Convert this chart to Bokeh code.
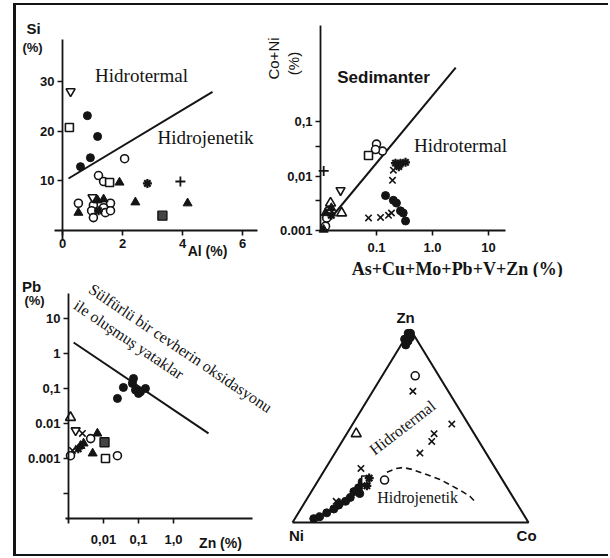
import math
from bokeh.plotting import figure
from bokeh.models import Range1d, FixedTicker, Label, LinearAxis, LogAxis, Grid
from bokeh.layouts import row, column
from bokeh.embed import file_html
from bokeh.resources import INLINE

INK = "#141414"
SERIF = "Liberation Serif"
SANS = "Liberation Sans"

# ---------------- Panel 1: Al (%) vs Si (%) ----------------
al_dot = [0.83, 1.17, 0.93, 0.6]
si_dot = [23.2, 19.0, 14.7, 12.9]
al_ring = [2.07, 1.2, 1.37, 0.53, 1.6, 1.03, 0.97, 1.03, 1.37, 1.43, 1.6]
si_ring = [14.5, 11.1, 9.9, 5.5, 5.5, 5.1, 4.0, 2.6, 4.6, 3.6, 4.0]
al_box = [0.23, 1.57]
si_box = [20.8, 9.7]
al_block = [3.33]
si_block = [3.0]
al_tri = [1.9, 2.43, 4.17, 0.53, 1.17, 1.37]
si_tri = [9.7, 5.7, 5.5, 3.6, 6.1, 6.3]
al_vtri = [0.27, 1.0]
si_vtri = [28.1, 6.7]
al_star = [2.83, 1.2]
si_star = [9.5, 4.0]
al_plus = [3.93]
si_plus = [9.9]
al_bound = [0.2, 5.0]
si_bound = [10.5, 28.0]
al_ticks = [0, 2, 4, 6]
si_ticks = [10, 20, 30]

# ---------------- Panel 2: As+Cu+Mo+Pb+V+Zn vs Co+Ni ----------------
s2_ring = [0.1, 0.128, 0.096, 0.0139, 0.0129, 0.0123]
c2_ring = [0.039, 0.029, 0.031, 0.0023, 0.0017, 0.0012]
s2_box = [0.072]
c2_box = [0.024]
s2_plus = [0.0114]
c2_plus = [0.0125]
s2_vtri = [0.0228]
c2_vtri = [0.0055]
s2_star = [0.218, 0.268, 0.33, 0.25, 0.0156]
c2_star = [0.0174, 0.0174, 0.018, 0.015, 0.0019]
s2_x = [0.2, 0.193, 0.072, 0.118, 0.164, 0.185]
c2_x = [0.0129, 0.0084, 0.0017, 0.00174, 0.0019, 0.0021]
s2_dot = [0.145, 0.2, 0.227, 0.268, 0.3, 0.33]
c2_dot = [0.0044, 0.0036, 0.0032, 0.0023, 0.0021, 0.0015]
s2_tri_open = [0.0151, 0.0238]
c2_tri_open = [0.0032, 0.0021]
s2_tri = [0.0123, 0.0156, 0.0114]
c2_tri = [0.0021, 0.0026, 0.00104]
s2_bound = [0.01, 2.6]
c2_bound = [0.001, 1.0]
s2_ticks = [0.1, 1, 10]
s2_tick_text = ["0.1", "1.0", "10"]
c2_ticks = [0.001, 0.0035, 0.01, 0.035, 0.1]
c2_tick_text = ["0.001", "", "0,01", "", "0,1"]

# ---------------- Panel 3: Zn (%) vs Pb (%) ----------------
zn3_dot = [0.072, 0.037, 0.025, 0.082, 0.1, 0.158, 0.114, 0.067]
pb3_dot = [0.193, 0.107, 0.052, 0.09, 0.072, 0.1, 0.08, 0.139]
zn3_tri_open = [0.00114]
pb3_tri_open = [0.0148]
zn3_vtri = [0.0016]
pb3_vtri = [0.0063]
zn3_x = [0.0025, 0.0013]
pb3_x = [0.0052, 0.0017]
zn3_ring = [0.0043, 0.00114, 0.025]
pb3_ring = [0.0037, 0.0012, 0.0012]
zn3_tri = [0.0067, 0.0022, 0.0049, 0.0027]
pb3_tri = [0.0052, 0.0023, 0.0014, 0.0027]
zn3_block = [0.0107]
pb3_block = [0.0029]
zn3_box = [0.0114]
pb3_box = [0.001]
zn3_star = [0.0019]
pb3_star = [0.0019]
zn3_bound = [0.0014, 10.0]
pb3_bound = [2.06, 0.0052]
zn3_ticks = [0.01, 0.1, 1]
zn3_tick_text = ["0,01", "0,1", "1,0"]
pb3_ticks = [0.0001, 0.001, 0.01, 0.1, 1, 10]
pb3_tick_text = ["", "0.001", "0.01", "0,1", "1", "10"]

# ---------------- Panel 4: ternary Zn - Ni - Co (%) ----------------
t_dot_zn = [98, 96, 95, 94, 98, 92, 21, 18, 16, 15, 13, 11, 9, 7, 5, 3, 2]
t_dot_ni = [2, 2, 5, 4, 1, 6, 60, 63, 66, 64, 69, 72, 76, 79, 83, 87, 90]
t_dot_co = [0, 2, 0, 2, 1, 2, 19, 19, 18, 21, 18, 17, 15, 14, 12, 10, 8]
t_ring_zn = [76, 22]
t_ring_ni = [10, 50]
t_ring_co = [14, 28]
t_x_zn = [68, 51, 46, 42, 36, 28, 11]
t_x_ni = [15, 7, 17, 20, 28, 57, 76]
t_x_co = [17, 42, 37, 38, 36, 15, 13]
t_tri_open_zn = [46]
t_tri_open_ni = [50]
t_tri_open_co = [4]
t_box_zn = [22]
t_box_ni = [58]
t_box_co = [20]
t_star_zn = [19, 23, 10]
t_star_ni = [59, 56, 75]
t_star_co = [22, 21, 15]
t_bound_zn = [26, 28, 28.5, 27.5, 25, 22, 19, 16, 13.5, 10]
t_bound_ni = [47, 42, 39, 35.5, 31, 26, 23, 20, 18, 17]
t_bound_co = [27, 30, 32.5, 37, 44, 52, 58, 64, 68.5, 73]
t_corner_zn = [0, 0, 100, 0]
t_corner_ni = [100, 0, 0, 100]
t_corner_co = [0, 100, 0, 0]

STYLE = {
    "dot": dict(marker="circle", size=8, fill_color=INK, line_width=1),
    "ring": dict(marker="circle", size=8, fill_color="white", line_width=1.6),
    "box": dict(marker="square", size=8, fill_color="white", line_width=1.6),
    "block": dict(marker="square", size=9, fill_color="#444444", line_width=1.4),
    "tri": dict(marker="triangle", size=9, fill_color=INK, line_width=1),
    "tri_open": dict(marker="triangle", size=10, fill_color="white", line_width=1.6),
    "vtri": dict(marker="inverted_triangle", size=9, fill_color="white", line_width=1.6),
    "star": dict(marker="asterisk", size=9, fill_color=INK, line_width=2.2),
    "x": dict(marker="x", size=9, fill_color=INK, line_width=1.6),
    "plus": dict(marker="cross", size=10, fill_color=INK, line_width=1.8),
}


def marks(p, xs, ys, kind):
    st = STYLE[kind]
    p.scatter(xs, ys, marker=st["marker"], size=st["size"], fill_color=st["fill_color"],
              line_color=INK, line_width=st["line_width"])


def style_axis(ax, standoff=3):
    ax.axis_line_color = INK
    ax.axis_line_width = 1.8
    ax.major_tick_line_color = INK
    ax.major_tick_line_width = 1.6
    ax.major_tick_out = 5
    ax.major_tick_in = 0
    ax.minor_tick_line_color = None
    ax.major_label_text_font = SANS
    ax.major_label_text_font_size = "13px"
    ax.major_label_text_font_style = "bold"
    ax.major_label_text_color = INK
    ax.major_label_standoff = standoff
    return ax


def base_fig(w, h, xr, yr, xtype="linear", ytype="linear"):
    p = figure(width=w, height=h, output_backend="svg", toolbar_location=None,
               x_axis_type=xtype, y_axis_type=ytype,
               x_axis_location=None, y_axis_location=None,
               x_range=Range1d(*xr), y_range=Range1d(*yr), min_border=0)
    p.outline_line_color = None
    for r in list(p.center):
        if isinstance(r, Grid):
            r.visible = False
    return p


def lab(p, sx, sy, text, font=SERIF, size="18px", style="normal", angle=0.0,
        align="center", baseline="middle"):
    p.add_layout(Label(x=sx, y=sy, x_units="screen", y_units="screen", text=text,
                       text_font=font, text_font_size=size, text_font_style=style,
                       text_color=INK, angle=angle, text_align=align,
                       text_baseline=baseline))


# ---------- figure 1 ----------
p1 = base_fig(246, 272, (-1.5333, 6.6667), (-9.495, 45.45))
ax = style_axis(LinearAxis(fixed_location=0, bounds=(-0.25, 6.5), ticker=FixedTicker(ticks=al_ticks)), 4)
p1.add_layout(ax, "below")
ay = style_axis(LinearAxis(fixed_location=0, bounds=(-2, 38.6), ticker=FixedTicker(ticks=si_ticks)))
p1.add_layout(ay, "left")
p1.line(al_bound, si_bound, line_color=INK, line_width=2)
marks(p1, al_dot, si_dot, "dot")
marks(p1, al_ring, si_ring, "ring")
marks(p1, al_box, si_box, "box")
marks(p1, al_block, si_block, "block")
marks(p1, al_tri, si_tri, "tri")
marks(p1, al_vtri, si_vtri, "vtri")
marks(p1, al_star, si_star, "star")
marks(p1, al_plus, si_plus, "plus")
lab(p1, 125, 202, "Hidrotermal", size="19px")
lab(p1, 189, 140, "Hidrojenetik", size="19px")
lab(p1, 17, 249, "Si", font=SANS, size="15px", style="bold")
lab(p1, 16, 230, "(%)", font=SANS, size="13px", style="bold")
lab(p1, 191, 27, "Al (%)", font=SANS, size="14px", style="bold")

# ---------- figure 2 ----------
p2 = base_fig(346, 272, (0.000921, 1390), (1.363e-4, 13.92), "log", "log")
ax = style_axis(LogAxis(fixed_location=0.001, bounds=(0.01, 20), ticker=FixedTicker(ticks=s2_ticks)), 7)
ax.major_label_overrides = dict(zip(s2_ticks, s2_tick_text))
p2.add_layout(ax, "below")
ay = style_axis(LogAxis(fixed_location=0.01, bounds=(0.001, 6), ticker=FixedTicker(ticks=c2_ticks)))
ay.major_label_overrides = dict(zip(c2_ticks, c2_tick_text))
p2.add_layout(ay, "left")
p2.line(s2_bound, c2_bound, line_color=INK, line_width=2)
marks(p2, s2_ring, c2_ring, "ring")
marks(p2, s2_box, c2_box, "box")
marks(p2, s2_plus, c2_plus, "plus")
marks(p2, s2_vtri, c2_vtri, "vtri")
marks(p2, s2_star, c2_star, "star")
marks(p2, s2_x, c2_x, "x")
marks(p2, s2_dot, c2_dot, "dot")
marks(p2, s2_tri_open, c2_tri_open, "tri_open")
marks(p2, s2_tri, c2_tri, "tri")
lab(p2, 121, 200, "Sedimanter", font=SANS, size="17px", style="bold")
lab(p2, 198, 132, "Hidrotermal", size="19px")
lab(p2, 11, 219, "Co+Ni", font=SANS, size="15px", angle=math.pi / 2)
lab(p2, 31, 214, "(%)", font=SANS, size="15px", angle=math.pi / 2)
lab(p2, 197, 9, "As+Cu+Mo+Pb+V+Zn  (%)", size="18px", style="bold")

# ---------- figure 3 ----------
p3 = base_fig(266, 277, (3.27e-5, 1300), (1.807e-6, 148), "log", "log")
ax = style_axis(LogAxis(fixed_location=1.9e-5, bounds=(0.0008, 180),
                        ticker=FixedTicker(ticks=zn3_ticks)), 11)
ax.major_label_overrides = dict(zip(zn3_ticks, zn3_tick_text))
p3.add_layout(ax, "below")
ay = style_axis(LogAxis(fixed_location=0.001, bounds=(1.4e-5, 52), ticker=FixedTicker(ticks=pb3_ticks)))
ay.major_label_overrides = dict(zip(pb3_ticks, pb3_tick_text))
p3.add_layout(ay, "left")
p3.line(zn3_bound, pb3_bound, line_color=INK, line_width=2)
marks(p3, zn3_dot, pb3_dot, "dot")
marks(p3, zn3_tri_open, pb3_tri_open, "tri_open")
marks(p3, zn3_vtri, pb3_vtri, "vtri")
marks(p3, zn3_x, pb3_x, "x")
marks(p3, zn3_ring, pb3_ring, "ring")
marks(p3, zn3_tri, pb3_tri, "tri")
marks(p3, zn3_block, pb3_block, "block")
marks(p3, zn3_box, pb3_box, "box")
marks(p3, zn3_star, pb3_star, "star")
tilt = -34 * math.pi / 180
lab(p3, 74, 267, "Sülfürlü bir cevherin oksidasyonu", size="16px", angle=tilt, align="left")
lab(p3, 59, 251, "ile oluşmuş yataklar", size="16px", angle=tilt, align="left")
lab(p3, 15, 268, "Pb", font=SANS, size="15px", style="bold")
lab(p3, 18, 254, "(%)", font=SANS, size="13px", style="bold")
lab(p3, 204, 12, "Zn (%)", font=SANS, size="14px", style="bold")


# ---------- figure 4 (ternary) ----------
def tern(zn, ni, co):
    xs, ys = [], []
    for a, b, c in zip(zn, ni, co):
        s = a + b + c
        xs.append((c + a / 2) / s)
        ys.append(a / s)
    return xs, ys


p4 = base_fig(326, 277, (-0.0424, 1.339), (-0.1658, 1.2694))
cx, cy = tern(t_corner_zn, t_corner_ni, t_corner_co)
p4.line(cx, cy, line_color=INK, line_width=2)
bx, by = tern(t_bound_zn, t_bound_ni, t_bound_co)
p4.line(bx, by, line_color=INK, line_width=1.6, line_dash="6 4")
for zn, ni, co, kind in [
    (t_dot_zn, t_dot_ni, t_dot_co, "dot"),
    (t_ring_zn, t_ring_ni, t_ring_co, "ring"),
    (t_x_zn, t_x_ni, t_x_co, "x"),
    (t_tri_open_zn, t_tri_open_ni, t_tri_open_co, "tri_open"),
    (t_box_zn, t_box_ni, t_box_co, "box"),
    (t_star_zn, t_star_ni, t_star_co, "star"),
]:
    xs, ys = tern(zn, ni, co)
    marks(p4, xs, ys, kind)


def dlab(p, x, y, text, font=SERIF, size="16px", angle=0.0, style="normal"):
    p.add_layout(Label(x=x, y=y, text=text, text_font=font, text_font_size=size,
                       text_font_style=style, text_color=INK, angle=angle,
                       text_align="center", text_baseline="middle"))


dlab(p4, 0.479, 1.062, "Zn", font=SANS, size="15px", style="bold")
dlab(p4, 0.017, -0.067, "Ni", font=SANS, size="15px", style="bold")
dlab(p4, 0.992, -0.067, "Co", font=SANS, size="15px", style="bold")
dlab(p4, 0.466, 0.492, "Hidrotermal", size="16px", angle=37.6 * math.pi / 180)
dlab(p4, 0.53, 0.13, "Hidrojenetik", size="16px")

layout = column(
    row(p1, p2),
    row(p3, p4),
    styles={"margin-left": "13px", "margin-top": "3px",
            "border-left": "3px solid #141414", "border-top": "2px solid #141414",
            "border-bottom": "2px solid #141414"},
)

open("out.html", "w").write(file_html(layout, INLINE))
